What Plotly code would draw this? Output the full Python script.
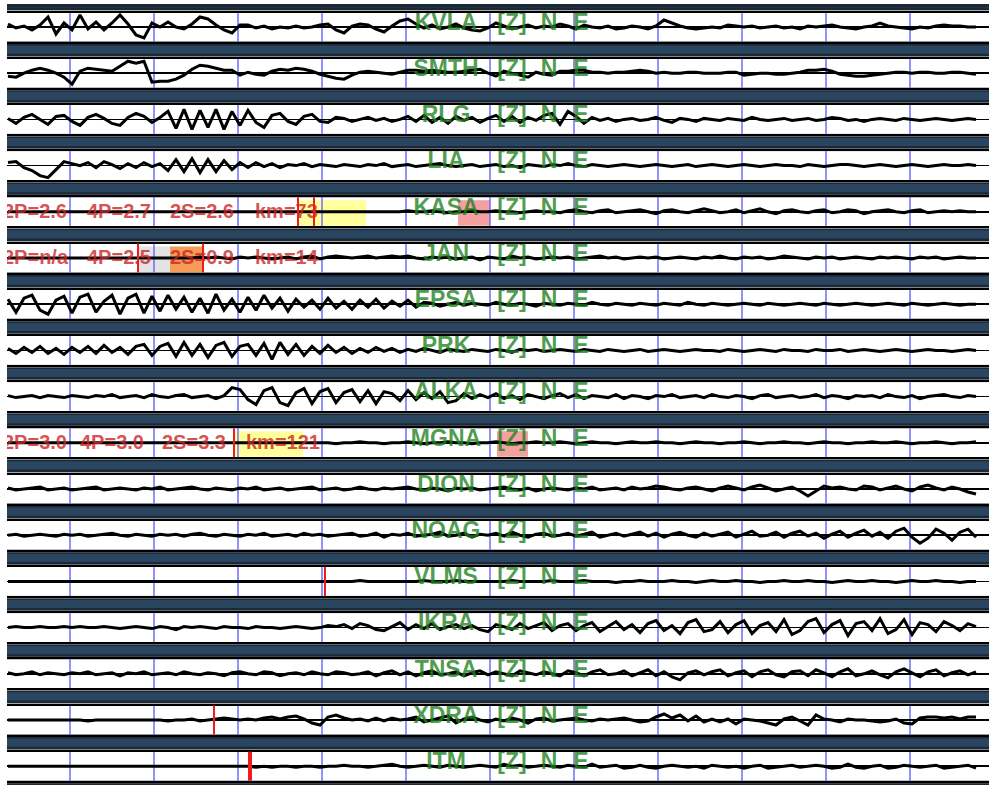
import plotly.graph_objects as go

# ---------------- data ----------------
STATIONS = ["KVLA", "SMTH", "RLG", "LIA", "KASA", "JAN", "EPSA", "PRK", "ALKA",
            "MGNA", "DION", "NOAG", "VLMS", "IKRA", "TNSA", "XDRA", "ITM"]
COMPONENTS = ["[Z]", "N", "E"]

SAMPLE_TIMES = list(range(8, 977, 8))          # 122 samples per trace
GRID_TIMES = [70, 154, 238, 322, 406, 490, 574, 658, 742, 826, 910]

KVLA = [3, -1, 1, -3, 2, 10, -7, 4, -3, 12,
        -2, 5, -3, 4, 12, 3, -8, -11, 4, 0,
        5, 0, -2, 3, 10, 8, 2, -3, -6, 2,
        2, -1, 1, -2, 0, -1, 1, -1, 0, 2,
        3, -3, -6, 1, 3, 2, -2, -5, 1, 6,
        8, 3, -1, 2, -2, 0, 3, -1, -3, -4,
        -1, 4, 1, -2, 0, 2, -1, 1, 0, 3,
        1, -2, 2, 0, -1, 1, -2, -1, 1, 0,
        -2, 1, 7, 4, 1, -1, -2, -1, 0, -1,
        2, 1, 0, 1, -1, 0, 1, -1, 0, -2,
        1, 0, 1, 2, 0, -1, -2, 0, 1, 4,
        1, 0, -1, -2, 0, -1, 1, 2, 1, 1,
        0, 0]
SMTH = [-3, -4, 0, 3, 5, 3, 0, -4, -11, 2,
        5, 4, 3, 2, 7, 12, 10, 12, -9, -8,
        -8, -6, -2, 4, 8, 7, 5, 3, 3, -2,
        1, -1, -2, 2, 4, 3, 5, 4, 2, -1,
        -3, -5, -6, -2, 1, 2, 1, 0, -1, 1,
        3, 3, 2, 3, 2, 1, 1, 2, 3, 4,
        0, -3, 2, 0, -2, -4, 1, -1, -2, 2,
        2, 3, 3, 1, 1, 0, 1, 1, 2, 3,
        2, 0, 1, 0, 0, 1, 1, 0, 0, 0,
        1, 1, -2, -1, 0, 0, -1, -1, 0, 1,
        3, 3, 4, 2, -1, -2, -3, -3, -2, -1,
        0, 1, 1, 0, 1, 1, 0, 0, 1, 1,
        0, -1]
RLG = [1, -4, 2, 5, 0, -5, 3, 4, -2, -6,
       2, 5, 1, -4, -6, 2, 6, 3, -3, 2,
       8, -9, 10, -10, 9, -8, 10, -10, 8, -6,
       9, -3, -8, 4, 6, -2, -5, 3, 5, -2,
       -3, 2, 1, -2, 0, 2, -1, 1, -2, 0,
       3, -2, 4, -3, 2, -4, 3, -1, 2, -3,
       1, 4, -2, 3, -3, 2, -1, 4, 6, -5,
       8, 3, -4, 2, -1, 1, -2, 0, 1, -1,
       0, 2, -1, -3, 1, 0, -2, 1, 0, -1,
       1, 0, -1, 2, 0, -1, 0, 1, -1, 0,
       1, -1, 0, 2, 1, -1, 0, -2, 0, 1,
       0, -1, 1, 0, -1, 0, 1, 0, -1, 0,
       1, 0]
LIA = [3, 4, -2, -5, -10, -12, -4, 4, 2, 0,
       3, -2, 4, 1, -3, 2, -2, 3, -1, 2,
       -5, 6, -6, 7, -7, 6, -6, 5, -4, 3,
       -2, 3, -1, 2, -2, 1, 0, 2, -1, 1,
       0, -1, 1, 0, -1, 1, 0, 2, -1, 0,
       1, -1, 0, 1, 2, 0, -1, 0, 1, -1,
       0, 1, -1, 0, -2, 1, 0, -1, 1, 0,
       2, 0, -1, 1, 0, -1, 0, 1, 0, -1,
       0, 1, 0, -1, 0, 1, -1, 0, 1, 0,
       -1, 0, 1, 0, -1, 0, 1, 0, 0, -1,
       1, 0, -1, 0, 1, 1, 0, -1, 0, 1,
       0, -1, 0, 1, 0, -1, 0, 1, 0, 0,
       1, 0]
KASA = [0, 0, 0, 0, 0, 0, 0, 0, 0, 0,
        0, 0, 0, 0, 0, 0, 0, 0, 0, 0,
        0, 0, 0, 0, 0, 0, 0, 0, 0, 0,
        0, 0, 0, 0, 0, 0, 0, 0, 0, 0,
        0, 0, 0, 0, 0, 0, 0, 0, 0, 0,
        1, 0, 0, 1, 0, -1, 0, 0, 1, 0,
        0, 1, 0, 0, -1, 0, 1, 0, 0, -1,
        1, 2, 0, -1, 1, 2, -1, 0, 1, 2,
        0, -2, 1, 2, 0, -1, 1, 3, 1, -1,
        0, 2, -1, 1, 3, 0, -2, 1, 2, 0,
        -1, 1, 2, -1, 0, 2, 1, -2, 0, 1,
        2, 0, -1, 1, 2, -1, 0, 1, 0, 1,
        0, 0]
JAN = [0, 0, 0, 0, 0, 0, 0, 0, 0, 0,
       0, 0, 0, 0, 0, 0, 0, 0, 0, 0,
       0, 0, 0, 0, 1, 0, 1, 0, -1, 1,
       0, 1, 0, -1, 0, 1, -1, 1, 2, -1,
       1, 2, 1, 0, 1, 2, 0, 1, 2, 1,
       2, 0, -1, 1, 0, 1, -1, 0, 1, -2,
       1, 0, -1, 2, 0, 1, -1, 0, 1, 0,
       1, -1, 0, 1, 2, 0, 1, -1, 0, 1,
       0, 1, -1, 0, 1, 0, -1, 1, 0, 2,
       0, -1, 1, 0, 1, -1, 0, 2, 1, 0,
       -1, 1, 0, 1, -1, 0, 1, 0, -1, 1,
       0, 1, 0, -1, 1, 0, 1, -1, 0, 1,
       0, 0]
EPSA = [5, -8, 6, 9, -6, -10, 4, 8, -9, 7,
        10, -8, 3, 9, -10, 6, 10, -9, 8, -7,
        9, -5, 7, -8, 6, -9, 10, -6, 5, -8,
        7, -6, 9, -4, 6, -7, 5, -3, 4, -5,
        6, -4, 3, -5, 4, -3, 5, -4, 3, -2,
        4, -3, 2, 1, -2, 0, 2, -1, 1, 0,
        -1, 2, 0, -1, 1, 0, -2, 1, 0, -1,
        1, 0, -1, 2, 0, -1, 1, 0, -1, 1,
        0, -1, 1, 0, -1, 2, 0, -1, 1, 0,
        -1, 0, 1, 0, -1, 1, 0, -1, 0, 1,
        0, -1, 1, 0, -1, 0, 1, 0, -1, 0,
        1, 0, -1, 1, 0, -1, 0, 1, 0, -1,
        0, 0]
PRK = [2, -3, 3, -2, 4, -3, 2, -4, 3, -2,
       4, -3, 5, -2, 3, -4, 4, 6, -5, 4,
       7, -6, 8, -5, 6, -7, 5, 8, -6, 4,
       6, -5, 7, -9, 8, -4, 6, -5, 4, -3,
       5, -2, 3, -3, 2, -2, 3, -1, 2, -2,
       1, -1, 2, 0, -2, 1, 0, -1, 1, 0,
       -1, 1, 0, -2, 1, 0, 1, -1, 0, 1,
       0, -1, 1, 0, -1, 1, 0, -1, 0, 1,
       -1, 0, 1, 0, -1, 0, 1, 0, 0, -1,
       1, 0, -1, 0, 1, 0, -1, 1, 0, 0,
       -1, 1, 0, 0, 1, -1, 0, 1, 0, -1,
       0, 1, 0, -1, 0, 1, 0, 0, -1, 0,
       1, 0]
ALKA = [1, -1, 0, 1, -1, 1, 0, -1, 1, 0,
        -1, 1, 0, 2, -1, 0, 1, -1, 2, 0,
        -1, 1, 2, -1, 0, 1, -2, 1, 9, 7,
        -3, -8, 6, 9, -6, -9, 4, 8, -7, 5,
        8, -6, 4, 7, -5, 6, -7, 5, 3, -4,
        6, -3, 4, -2, 5, -6, -4, 3, -2, 2,
        -1, 3, -2, 1, -3, 2, 0, -2, 1, 3,
        -1, 2, -2, 1, 0, -1, 2, -2, 1, 0,
        -2, 1, 0, 2, -1, 0, 1, -1, 2, 0,
        -1, 1, 0, -2, 1, 2, -1, 0, 1, -1,
        0, 2, -1, 1, 0, -2, 1, 0, 1, -1,
        2, 0, -1, 1, -2, 0, 1, 2, 0, -1,
        1, 0]
MGNA = [0, 0, 0, 0, 0, 0, 0, 0, 0, 0,
        0, 0, 0, 0, 0, 0, 0, 0, 0, 0,
        0, 0, 0, 0, 0, 0, 0, 0, 0, 0,
        0, 0, 0, 0, 0, 0, 0, 0, 0, 0,
        0, -1, 0, 0, 1, 0, 0, -1, 0, 0,
        1, 0, -1, 0, 0, 1, 0, 0, -1, 0,
        0, 1, 0, -1, 0, 0, 1, 0, 0, 1,
        0, -1, 0, 1, 0, 0, -1, 0, 1, 0,
        0, 1, 0, 0, -1, 0, 1, 0, 0, -1,
        0, 0, 1, 0, -1, 0, 0, 1, 0, 0,
        -1, 0, 1, 0, 0, -1, 0, 0, 1, 0,
        0, 1, 0, -1, 0, 0, 1, 0, -1, 0,
        0, 1]
DION = [1, -1, 0, 1, 2, -1, 0, 1, -1, 0,
        1, 2, -1, 0, 1, 0, -1, 1, 0, 2,
        -1, 0, 1, 2, 0, -1, 1, 0, -1, 1,
        0, 2, -1, 0, 1, -1, 0, 1, 2, -1,
        0, 1, -1, 0, 2, 0, -1, 1, 0, 1,
        2, 0, -1, 1, 0, -2, 1, 0, 1, -1,
        0, 1, 2, 0, -1, 1, -2, 0, 1, 0,
        -1, 1, 0, 2, -1, 0, 1, -1, 2, 0,
        1, 3, 2, 0, -1, 1, 2, 0, -2, 1,
        3, 1, -1, 2, 4, 1, -2, 0, 2, -2,
        -7, -2, 3, 1, 2, 0, -1, 3, 2, -1,
        1, 3, 0, -2, 2, 4, 1, -1, 2, 0,
        -3, -5]
NOAG = [0, 1, -1, 0, 1, 0, -1, 1, 0, 1,
        -1, 0, 1, 2, 0, -1, 1, 0, -1, 1,
        0, 1, -1, 1, 2, 0, -1, 1, 0, -1,
        1, 0, 2, -1, 0, 1, -1, 2, 0, 1,
        -1, 0, 1, 2, -1, 0, 2, -2, 1, 0,
        2, -1, 0, 1, 3, -1, 0, 2, -2, 1,
        0, 2, -1, 3, 0, -2, 1, 2, -1, 0,
        2, -1, 1, 3, -2, 0, 2, -1, 1, 3,
        -1, 2, -2, 1, 3, 0, -2, 2, -1, 1,
        3, -2, 1, 4, -1, 0, 3, -2, 2, 4,
        -1, 2, -3, 1, 4, -2, 2, 5, -1, 3,
        -3, 4, 7, -2, -8, -3, 6, 2, -5, 3,
        6, -2]
VLMS = [0, 0, 0, 0, 0, 0, 0, 0, 0, 0,
        0, 0, 0, 0, 0, 0, 0, 0, 0, 0,
        0, 0, 0, 0, 0, 0, 0, 0, 0, 0,
        0, 0, 0, 0, 0, 0, 0, 0, 0, 0,
        0, 0, 0, 0, 1, 0, 0, 0, 0, 0,
        0, 0, 1, 0, 0, 0, 1, 0, 0, 0,
        0, 0, 0, 1, 0, 0, 0, 0, 1, 0,
        0, 0, 1, 0, 0, 0, -1, 0, 0, 1,
        0, 0, 0, 1, 0, 0, -1, 0, 1, 0,
        0, 1, 0, 0, -1, 0, 0, 1, 0, 0,
        1, 0, 0, -1, 0, 1, 0, 0, 1, 0,
        0, -1, 0, 1, 0, 0, 1, 0, 0, -1,
        0, 0]
IKRA = [0, 1, 0, 0, 1, 0, 0, 1, 0, 1,
        0, 0, 1, 0, -1, 0, 1, 0, -1, 1,
        0, -2, 1, 0, 1, 0, -1, 1, 0, 0,
        -1, 1, 0, 0, -1, 0, 1, 0, -1, 0,
        2, 1, 3, -1, 4, 2, -2, -3, 1, 5,
        -2, 3, -1, 4, -2, 1, 3, -1, 2, -2,
        -4, 3, 1, -2, 4, -1, 2, 5, -3, 2,
        4, -3, 2, 5, -4, 1, 6, -2, 3, -5,
        4, 7, -3, 2, -6, 5, 8, -4, -2, 6,
        -5, 3, 7, -6, 2, 5, -4, 8, -7, -3,
        6, 9, -5, 3, 7, -8, 4, 6, -3, 9,
        -6, -2, 8, -7, 5, 3, -4, 6, 2, -3,
        4, 1]
TNSA = [1, -1, 0, 2, -1, 1, 0, -1, 1, 0,
        2, -1, 0, 1, -2, 1, 0, 2, -1, 0,
        1, -1, 2, 0, -1, 1, 0, -2, 1, 2,
        0, -1, 2, 1, -2, 0, 1, -1, 2, 0,
        -1, 2, 1, -1, 0, 2, -2, 1, 3, -1,
        2, -2, 1, 3, -1, 0, 2, -2, 1, 3,
        -1, 2, 0, -2, 3, 1, -1, 2, 0, -2,
        3, 1, -2, 2, 4, -1, 0, 3, -2, 1,
        4, -2, 2, -3, -6, 1, 3, -1, 2, 4,
        -2, 1, 3, -3, 2, 4, -1, -3, 2, 3,
        -2, 4, 1, -3, 2, 5, -2, 0, 3, -1,
        -4, 2, 5, 1, -3, 2, 4, -2, 1, 3,
        -1, 2]
XDRA = [0, 0, 0, 0, 0, 0, 0, 0, 0, 0,
        -1, 0, 0, 0, 0, 0, 0, 0, 0, 0,
        -1, 0, 0, 1, -1, 0, 1, 2, 1, 0,
        1, 0, 2, 3, 1, 3, 4, 1, -3, -5,
        3, 5, 2, 0, 1, -1, 2, -1, 2, 0,
        1, 3, -2, 0, 2, 4, -3, 1, 3, 0,
        -2, 1, -1, 2, 0, -3, 1, 2, -1, 0,
        1, 2, 0, -1, 1, 0, 1, 2, 0, -2,
        -1, 3, 6, 2, 5, -1, 4, -2, 1, -2,
        1, -4, 1, 0, -1, -3, -5, 1, 3, -1,
        -5, 5, 1, 0, -2, 1, 0, 0, -1, -2,
        -1, 1, -3, -4, 2, 3, 3, 2, 3, 1,
        3, 3]
ITM = [0, 0, 0, 0, 0, 0, 0, 0, 0, 0,
       0, 0, 0, 0, 0, 0, 0, 0, 0, 0,
       0, 0, 0, 0, 0, 0, 0, 0, 0, 0,
       0, -1, 0, -1, 0, 0, -1, 0, 0, -1,
       0, 0, 1, 0, 0, -1, 0, 1, 2, 0,
       -1, 0, 1, 0, -1, 1, 0, -1, 0, 1,
       0, -1, 2, 0, 1, -1, 0, 1, 0, -1,
       1, 0, -1, 2, -1, 0, 1, -2, -1, 1,
       -1, -2, 0, 1, 0, -1, 0, -2, 1, 0,
       -1, 0, -2, 0, 1, -2, -1, 0, 1, -1,
       0, 1, 0, -2, -1, 2, -1, -2, 0, 1,
       -2, -1, 1, 0, -1, 0, 1, -2, -1, 0,
       1, -2]

TRACES = [KVLA, SMTH, RLG, LIA, KASA, JAN, EPSA, PRK, ALKA,
          MGNA, DION, NOAG, VLMS, IKRA, TNSA, XDRA, ITM]

# phase picks (red markers)
PICK_STATIONS = ["KASA", "KASA", "JAN", "JAN", "MGNA", "VLMS", "XDRA", "ITM"]
PICK_TIMES = [298, 314, 138, 203, 234, 325, 214, 250]

# highlighted windows
WIN_STATIONS = ["KASA", "KASA", "JAN", "JAN", "MGNA", "MGNA"]
WIN_START = [298, 458, 138, 170, 234, 497]
WIN_END = [366, 490, 170, 203, 303, 528]
WIN_KIND = ["amp", "comp", "grey", "orange", "amp", "comp"]

# travel-time readouts
READ_STATIONS = ["KASA", "JAN", "MGNA"]
READ_TEXT = [["2P=2.6", "4P=2.7", "2S=2.6", "km=73"],
             ["2P=n/a", "4P=2.5", "2S=0.9", "km=14"],
             ["2P=3.0", "4P=3.0", "2S=3.3", "km=121"]]
READ_TIMES = [[3, 87, 170, 255],
              [3, 87, 170, 255],
              [3, 80, 162, 246]]

# ---------------- layout constants ----------------
FIG_W, FIG_H = 989, 785
X_LEFT = 7
ROW_C0, ROW_PITCH, ROW_HALF = 27.0, 46.2, 14.5
LABEL_X = [446, 512, 549, 581]
WIN_COLORS = {"amp": "#ffff9c", "comp": "#f4a0a0", "grey": "#e3e3e3", "orange": "#f59c58"}
PICK_WIDTH = {"ITM": 4}
FONT = "Liberation Sans, Arial, sans-serif"


def axn(k, base):
    return base if k == 0 else f"{base}{k + 1}"


def row_top(k):
    return ROW_C0 + ROW_PITCH * k - ROW_HALF


def row_bot(k):
    return ROW_C0 + ROW_PITCH * k + ROW_HALF


def py(px):
    return 1 - px / FIG_H


fig = go.Figure()
layout = {}
shapes = []

for k, (name, vals) in enumerate(zip(STATIONS, TRACES)):
    xa, ya = axn(k, "x"), axn(k, "y")
    fig.add_trace(go.Scatter(x=SAMPLE_TIMES[:len(vals)], y=vals, mode="lines",
                             line=dict(color="black", width=3),
                             xaxis=xa, yaxis=ya, hoverinfo="skip", showlegend=False))
    fig.add_trace(go.Scatter(x=LABEL_X, y=[3, 3, 3, 3], mode="text",
                             text=["<b>%s</b>" % t for t in [name] + COMPONENTS],
                             textposition="middle center",
                             textfont=dict(family=FONT, size=23, color="rgba(30,130,30,0.8)"),
                             xaxis=xa, yaxis=ya, hoverinfo="skip", showlegend=False))
    layout[xa.replace("x", "xaxis")] = dict(
        domain=[X_LEFT / FIG_W, 1], range=[X_LEFT, FIG_W], anchor=ya,
        matches=None if k == 0 else "x",
        showgrid=True, tickvals=GRID_TIMES, gridcolor="rgba(110,110,255,0.75)", gridwidth=2,
        showticklabels=False, ticks="", zeroline=False,
        showline=True, mirror=True, linecolor="black", linewidth=2)
    layout[ya.replace("y", "yaxis")] = dict(
        domain=[py(row_bot(k)), py(row_top(k))], range=[-ROW_HALF, ROW_HALF], anchor=xa,
        showgrid=False, showticklabels=False, ticks="",
        zeroline=True, zerolinecolor="black", zerolinewidth=1.6, showline=False)

# readout texts
for st, texts, times in zip(READ_STATIONS, READ_TEXT, READ_TIMES):
    k = STATIONS.index(st)
    fig.add_trace(go.Scatter(x=times, y=[-1] * len(times), mode="text",
                             text=["<b>%s</b>" % t for t in texts],
                             textposition="middle right", cliponaxis=True,
                             textfont=dict(family=FONT, size=20, color="rgba(205,35,35,0.78)"),
                             xaxis=axn(k, "x"), yaxis=axn(k, "y"),
                             hoverinfo="skip", showlegend=False))

# highlight windows
for st, t0, t1, kind in zip(WIN_STATIONS, WIN_START, WIN_END, WIN_KIND):
    k = STATIONS.index(st)
    shapes.append(dict(type="rect", xref=axn(k, "x"), yref=axn(k, "y") + " domain",
                       x0=t0, x1=t1, y0=0.02, y1=0.9, fillcolor=WIN_COLORS[kind],
                       line=dict(width=0), layer="below"))

# picks
for st, t in zip(PICK_STATIONS, PICK_TIMES):
    k = STATIONS.index(st)
    shapes.append(dict(type="line", xref=axn(k, "x"), yref=axn(k, "y") + " domain",
                       x0=t, x1=t, y0=0, y1=1,
                       line=dict(color="#ee1c1c", width=PICK_WIDTH.get(st, 2)), layer="above"))

# white page margins (left column, top strip)
shapes.append(dict(type="rect", xref="paper", yref="paper", x0=0, x1=X_LEFT / FIG_W,
                   y0=0, y1=1, fillcolor="white", line=dict(width=0), layer="below"))
shapes.append(dict(type="rect", xref="paper", yref="paper", x0=0, x1=1,
                   y0=py(4), y1=1, fillcolor="white", line=dict(width=0), layer="below"))

# dark separator bands decoration
n = len(STATIONS)
for k in range(n + 1):
    top = 4 if k == 0 else row_bot(k - 1)
    bot = row_top(k) if k < n else FIG_H
    if k > 0:
        shapes.append(dict(type="rect", xref="paper", yref="paper", x0=X_LEFT / FIG_W, x1=1,
                           y0=py(top + 2.5), y1=py(top + 1.0), fillcolor="#a8a8a8",
                           line=dict(width=0), layer="below"))
    if bot - top > 8:
        shapes.append(dict(type="rect", xref="paper", yref="paper", x0=X_LEFT / FIG_W, x1=1,
                           y0=py(bot - 5), y1=py(top + 4), fillcolor="#2a4560",
                           line=dict(width=0), layer="below"))
        shapes.append(dict(type="rect", xref="paper", yref="paper", x0=X_LEFT / FIG_W, x1=1,
                           y0=py(bot - 1.0), y1=py(bot - 2.5), fillcolor="#a8a8a8",
                           line=dict(width=0), layer="below"))

fig.update_layout(**layout)
fig.update_layout(width=FIG_W, height=FIG_H, margin=dict(l=0, r=0, t=0, b=0),
                  paper_bgcolor="#1b2937", plot_bgcolor="white",
                  showlegend=False, shapes=shapes, hovermode=False)

fig.write_html("out.html", config={"displayModeBar": False, "staticPlot": True},
               post_script="document.body.style.margin='0';document.body.style.overflow='hidden';")
